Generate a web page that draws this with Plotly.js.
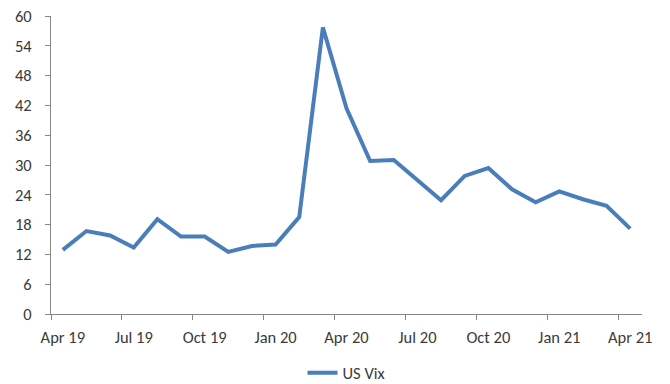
<!DOCTYPE html>
<html>
<head>
<meta charset="utf-8">
<script src="https://cdn.plot.ly/plotly-3.0.1.min.js"></script>
<style>
  html, body { margin: 0; padding: 0; background: #ffffff; }
  #chart { width: 670px; height: 384px; }
</style>
</head>
<body>
<div id="chart"></div>
<script>
// Monthly US Vix, Apr 2019 - Apr 2021
const months = [
  'Apr 19','May 19','Jun 19','Jul 19','Aug 19','Sep 19','Oct 19','Nov 19','Dec 19',
  'Jan 20','Feb 20','Mar 20','Apr 20','May 20','Jun 20','Jul 20','Aug 20','Sep 20',
  'Oct 20','Nov 20','Dec 20','Jan 21','Feb 21','Mar 21','Apr 21'
];
const usVix = [
  12.9, 16.7, 15.8, 13.4, 19.1, 15.6, 15.6, 12.5, 13.7,
  14.0, 19.5, 57.7, 41.4, 30.8, 31.0, 27.0, 22.9, 27.8,
  29.4, 25.1, 22.5, 24.7, 23.1, 21.8, 17.2
];
// Quarterly labels shown on the x axis
const quarterLabels = ['Apr 19','Jul 19','Oct 19','Jan 20','Apr 20','Jul 20','Oct 20','Jan 21','Apr 21'];
const yTicks = [0, 6, 12, 18, 24, 30, 36, 42, 48, 54, 60];

const idx = months.map((m, i) => i);
const labelPos = quarterLabels.map(l => months.indexOf(l));
// tick marks sit on the boundary before each labelled month
const boundaryPos = labelPos.map(p => p - 0.5);

const font = 'Carlito, Lato, "Liberation Sans", sans-serif';
const axisColor = '#868686';
const textColor = '#3a3a3a';
const fontSize = 16.5;

const traces = [
  {
    x: idx, y: usVix, type: 'scatter', mode: 'lines', name: 'US Vix',
    line: { color: '#4A7EBB', width: 4 },
    hoverinfo: 'skip'
  },
  {
    // carrier for the boundary-tick axis
    x: idx, y: usVix, type: 'scatter', mode: 'lines', xaxis: 'x2',
    line: { color: 'rgba(0,0,0,0)', width: 0 },
    showlegend: false, hoverinfo: 'skip'
  }
];

const layout = {
  width: 670, height: 384,
  margin: { l: 51, r: 28, t: 16, b: 70, autoexpand: false },
  paper_bgcolor: '#ffffff', plot_bgcolor: '#ffffff',
  font: { family: font, size: fontSize, color: textColor },
  showlegend: true,
  legend: {
    orientation: 'h', x: 0.5, xanchor: 'center', xref: 'paper',
    y: -0.198, yanchor: 'middle',
    font: { family: font, size: fontSize, color: textColor },
    itemwidth: 30
  },
  xaxis: {
    range: [-0.5, 24.5], showgrid: false, zeroline: false,
    showline: true, linecolor: axisColor, linewidth: 1,
    tickmode: 'array', tickvals: labelPos, ticktext: quarterLabels,
    ticks: '', ticklabelstandoff: 8, automargin: false,
    tickfont: { family: font, size: fontSize, color: textColor }
  },
  xaxis2: {
    overlaying: 'x', matches: 'x', anchor: 'y', side: 'bottom',
    range: [-0.5, 24.5], showgrid: false, zeroline: false, showline: false,
    tickmode: 'array', tickvals: boundaryPos, ticks: 'outside', ticklen: 5,
    tickcolor: axisColor, showticklabels: false
  },
  yaxis: {
    range: [0, 60], showgrid: false, zeroline: false,
    showline: true, linecolor: axisColor, linewidth: 1,
    tickmode: 'array', tickvals: yTicks, automargin: false,
    ticks: 'outside', ticklen: 5, tickcolor: axisColor, ticklabelstandoff: 10,
    tickfont: { family: font, size: fontSize, color: textColor }
  }
};

Plotly.newPlot('chart', traces, layout, { staticPlot: true, displayModeBar: false });
</script>
</body>
</html>
